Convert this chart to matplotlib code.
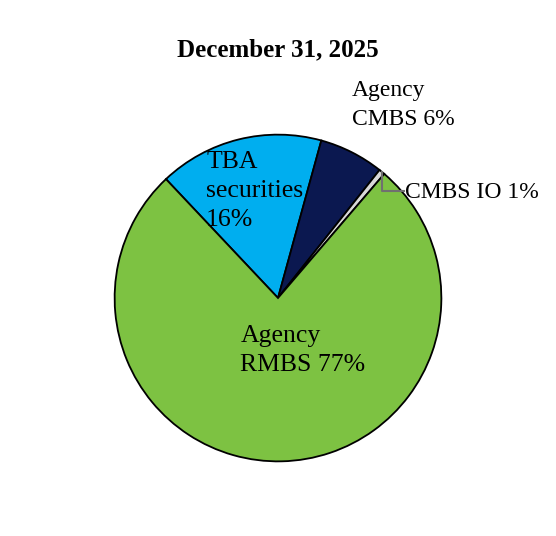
import matplotlib
matplotlib.use("Agg")
import matplotlib.pyplot as plt

# portfolio shares (clockwise from TBA)
categories = ["TBA securities", "Agency CMBS", "CMBS IO", "Agency RMBS"]
shares = [16.3, 6.4, 0.6, 76.7]
colors = ["#00aeef", "#0b1850", "#d9d9d9", "#7dc242"]

plt.rcParams["font.family"] = ["Liberation Serif", "DejaVu Serif"]

fig = plt.figure(figsize=(5.56, 5.36), dpi=100)
ax = fig.add_axes([113 / 556, 73 / 536, 330 / 556, 330 / 536])

ax.pie(shares, colors=colors, startangle=133.3, counterclock=False,
       radius=1.0, wedgeprops=dict(edgecolor="black", linewidth=1.3))
ax.set_xlim(-1.01, 1.01)
ax.set_ylim(-1.01, 1.01)
ax.set_aspect("equal")
ax.axis("off")

fs_in = 18.5
fs_out = 17
ax.text(-0.44, 0.655, "TBA\nsecurities\n16%", ha="left", va="center",
        fontsize=fs_in, linespacing=1.42)
ax.text(0.45, 1.18, "Agency\nCMBS 6%", ha="left", va="center",
        fontsize=fs_out, linespacing=1.5)
ax.text(-0.23, -0.32, "Agency\nRMBS 77%", ha="left", va="center",
        fontsize=fs_in, linespacing=1.42)
ax.text(0.78, 0.645, "CMBS IO 1%", ha="left", va="center", fontsize=fs_out)
ax.plot([0.636, 0.636, 0.77], [0.77, 0.655, 0.655], color="#707070",
        linewidth=1.5, clip_on=False)

fig.text(0.5, 1 - 50 / 536, "December 31, 2025", ha="center", va="center",
         fontsize=18, fontweight="bold")

fig.savefig("out.png", dpi=100)
